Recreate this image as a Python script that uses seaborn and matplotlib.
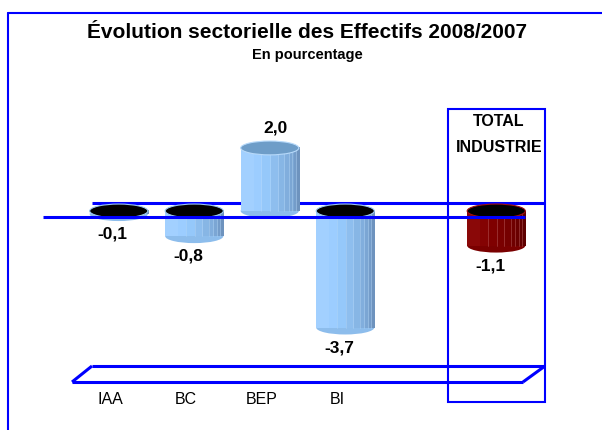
import matplotlib
matplotlib.use("Agg")
import matplotlib.pyplot as plt
from matplotlib.colors import LinearSegmentedColormap
from matplotlib.lines import Line2D
from matplotlib.patches import Ellipse, Rectangle
from matplotlib.transforms import ScaledTranslation
import numpy as np
import pandas as pd
import seaborn as sns

# data
sectors = ["IAA", "BC", "BEP", "BI", "TOTAL INDUSTRIE"]
evolution = [-0.1, -0.8, 2.0, -3.7, -1.1]
value_text = ["-0,1", "-0,8", "2,0", "-3,7", "-1,1"]
slot_order = ["IAA", "BC", "BEP", "BI", "", "TOTAL INDUSTRIE"]
tick_labels = ["IAA", "BC", "BEP", "BI", "", ""]

W, H = 602, 430
BLUE = "#0000FF"

sns.set_style("white")
plt.rcParams["font.family"] = ["Liberation Sans", "DejaVu Sans"]
plt.rcParams["text.color"] = "black"
plt.rcParams["xtick.color"] = "black"
plt.rcParams["xtick.labelcolor"] = "black"


def fx(px):
    return px / W


def fy(py):
    return 1 - py / H


fig = plt.figure(figsize=(W / 100, H / 100), dpi=100)
ax = fig.add_axes([fx(81), fy(366), 453 / W, 265 / H])

df = pd.DataFrame({"secteur": sectors, "evol": evolution})
palette = {s: "#99CCFF" for s in sectors}
palette["TOTAL INDUSTRIE"] = "#800000"
sns.barplot(data=df, x="secteur", y="evol", order=slot_order, hue="secteur",
            palette=palette, width=0.77, saturation=1, legend=False, ax=ax,
            zorder=2)

blue_cm = LinearSegmentedColormap.from_list(
    "cyl_blue", ["#A2D0FF", "#99CCFF", "#8DBDEC", "#83B0DF", "#79A3D1", "#6E93BE"])
red_cm = LinearSegmentedColormap.from_list(
    "cyl_red", ["#8A0808", "#800000", "#760000", "#6A0000", "#5E0000"])

# facets of the fake cylinder: get narrower to the right
facet_edges = [0.21, 0.35, 0.51, 0.64, 0.75, 0.83, 0.89, 0.95]
cols = np.linspace(0, 1, 120, endpoint=False)
shade = np.searchsorted(facet_edges, cols, side="right") / len(facet_edges)
shade = shade[np.newaxis, :]

labels = dict(zip(sectors, value_text))
eh = 0.44  # ellipse height in data units

for p in list(ax.patches):
    w = p.get_width()
    v = p.get_height()
    x0 = p.get_x()
    xc = x0 + w / 2
    name = slot_order[int(round(xc))]
    is_total = name == "TOTAL INDUSTRIE"
    cm = red_cm if is_total else blue_cm
    base = "#7A0000" if is_total else "#8DBDEC"
    p.set_visible(False)
    ax.imshow(shade, cmap=cm, vmin=0, vmax=1,
              extent=(x0, x0 + w, min(0, v), max(0, v)),
              aspect="auto", zorder=2, interpolation="nearest")
    for e in facet_edges[1:]:
        ax.plot([x0 + w * e] * 2, [min(0, v), max(0, v)],
                color="#D08080" if is_total else "#BFDDF8",
                lw=0.5, alpha=0.5, zorder=2.1)
    if v < 0:
        ax.add_patch(Ellipse((xc, v), w, eh, fc=base, ec="none", zorder=1.9))
        ax.add_patch(Ellipse((xc, 0), w, eh, fc="black",
                             ec="#A01010" if is_total else "#9CC8F0",
                             lw=0.8, zorder=3))
        dy, dx = -20, -6
    else:
        ax.add_patch(Ellipse((xc, 0), w, eh, fc=base, ec="none", zorder=1.9))
        ax.add_patch(Ellipse((xc, v), w, eh, fc="#6E9DC8", ec="#B8DAFA",
                             lw=0.8, zorder=3))
        dy, dx = 20, 6
    ax.annotate(labels[name], (xc, v), xytext=(dx, dy), textcoords="offset pixels",
                ha="center", va="center", fontsize=12.5, fontweight="bold",
                zorder=5)

ax.set_xlim(-0.5, 5.5)
ax.set_ylim(-4.92, 3.49)
ax.set_xlabel("")
ax.set_ylabel("")
ax.set_yticks([])
ax.set_xticks(range(len(slot_order)))
ax.set_xticklabels(tick_labels, fontsize=11.5)
ax.tick_params(axis="x", length=0, pad=19)
for lab in ax.get_xticklabels():
    lab.set_transform(lab.get_transform() + ScaledTranslation(-0.08, 0, fig.dpi_scale_trans))
for s in ax.spines.values():
    s.set_visible(False)
ax.patch.set_alpha(0)


def seg(xs, ys, lw=2.2, z=4):
    ax.add_line(Line2D([fx(x) for x in xs], [fy(y) for y in ys], color=BLUE,
                       lw=lw, transform=fig.transFigure, clip_on=False,
                       zorder=z, solid_capstyle="butt"))


# zero plane (back behind bars, front over them)
seg([92, 545], [203, 203], z=1.5)
seg([43, 525], [217, 217], z=4)
# floor
seg([92, 545], [366, 366], z=1.5)
seg([72, 523], [382, 382])
seg([72, 92], [382, 366])
seg([523, 545], [382, 366])

# total box
ax.add_patch(Rectangle((fx(448), fy(402)), fx(545) - fx(448), fy(109) - fy(402),
                       fill=False, ec=BLUE, lw=1.5, transform=fig.transFigure,
                       clip_on=False, zorder=4))
for i, word in enumerate(sectors[-1].split()):
    fig.text(fx(499), fy(122 + 25 * i), word, ha="center", va="center",
             fontsize=11.5, fontweight="bold")

# outer frame
fig.add_artist(Line2D([fx(8), fx(602)], [fy(13), fy(13)], color=BLUE, lw=1.5))
fig.add_artist(Line2D([fx(8), fx(8)], [fy(13), fy(430)], color=BLUE, lw=1.5))

fig.text(fx(307), fy(32), "Évolution sectorielle des Effectifs 2008/2007",
         ha="center", va="center", fontsize=15, fontweight="bold")
fig.text(fx(307), fy(55), "En pourcentage", ha="center", va="center",
         fontsize=10.5, fontweight="bold")

fig.savefig("out.png", dpi=100)
